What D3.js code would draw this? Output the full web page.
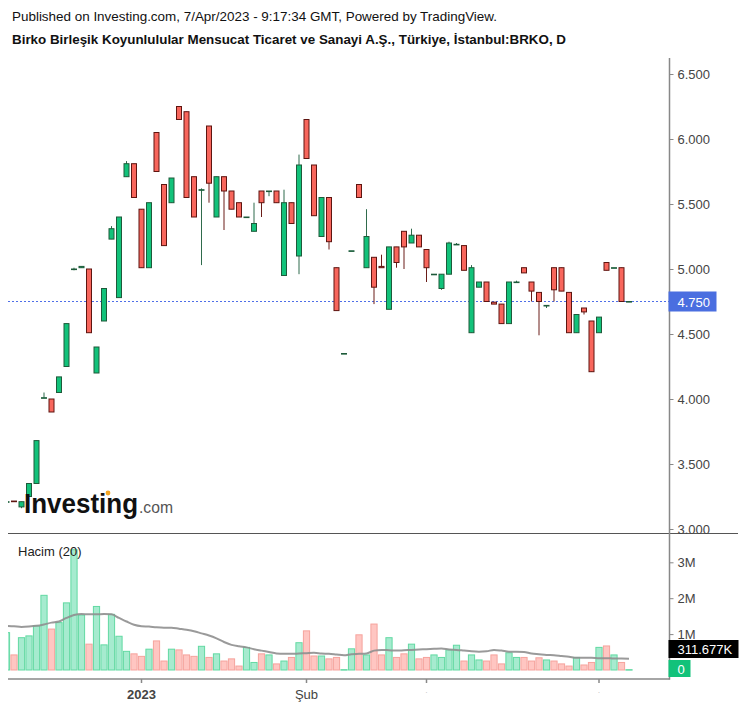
<!DOCTYPE html>
<html>
<head>
<meta charset="utf-8">
<script src="https://cdn.jsdelivr.net/npm/d3@7"></script>
<style>
  body { margin: 0; background: #fff; }
  svg { display: block; font-family: "Liberation Sans", Arial, sans-serif; }
</style>
</head>
<body>
<svg id="chart" width="746" height="707"></svg>
<script>
// ---------- DATA ----------
const dates = [
  "2022-12-07","2022-12-08","2022-12-09","2022-12-12","2022-12-13","2022-12-14","2022-12-15","2022-12-16",
  "2022-12-19","2022-12-20","2022-12-21","2022-12-22","2022-12-23","2022-12-26","2022-12-27","2022-12-28",
  "2022-12-29","2022-12-30",
  "2023-01-02","2023-01-03","2023-01-04","2023-01-05","2023-01-06","2023-01-09","2023-01-10","2023-01-11",
  "2023-01-12","2023-01-13","2023-01-16","2023-01-17","2023-01-18","2023-01-19","2023-01-20","2023-01-23",
  "2023-01-24","2023-01-25","2023-01-26","2023-01-27","2023-01-30","2023-01-31",
  "2023-02-01","2023-02-02","2023-02-03","2023-02-06","2023-02-07","2023-02-08","2023-02-15","2023-02-16",
  "2023-02-17","2023-02-20","2023-02-21","2023-02-22","2023-02-23","2023-02-24","2023-02-27","2023-02-28",
  "2023-03-01","2023-03-02","2023-03-03","2023-03-06","2023-03-07","2023-03-08","2023-03-09","2023-03-10",
  "2023-03-13","2023-03-14","2023-03-15","2023-03-16","2023-03-17","2023-03-20","2023-03-21","2023-03-22",
  "2023-03-23","2023-03-24","2023-03-27","2023-03-28","2023-03-29","2023-03-30","2023-03-31",
  "2023-04-03","2023-04-04","2023-04-05","2023-04-06","2023-04-07"
];
const opens = [
  3.21, 3.215,3.17,3.25,3.35,4.01,4.00,4.05,4.25,5.00,5.01,5.00,4.20,4.60,5.23,4.78,5.71,5.81,5.46,5.01,6.05,
  5.65,5.51,6.25,6.21,5.71,5.61,6.10,5.40,5.71,5.60,5.51,5.40,5.29,5.60,5.60,5.60,4.95,5.51,5.10,6.15,
  5.80,5.25,5.55,5.01,4.35,5.14,5.65,5.01,5.09,5.02,4.69,5.17,5.29,5.20,5.26,5.15,4.96,4.85,4.96,5.19,
  5.18,4.51,4.86,4.90,4.745,4.73,4.58,4.90,5.01,4.90,4.82,4.72,5.01,5.01,4.82,4.51,4.70,4.60,4.51,5.05,
  5.01,5.01,4.75
];
const highs = [
  3.21, 3.215,3.21,3.35,3.68,4.05,4.00,4.17,4.58,5.01,5.02,5.00,4.40,4.85,5.33,5.40,5.83,5.81,5.46,5.51,6.05,
  5.65,5.70,6.25,6.21,5.71,5.62,6.10,5.71,5.71,5.60,5.51,5.40,5.51,5.60,5.60,5.60,5.61,5.51,5.88,6.15,
  5.80,5.55,5.55,5.01,4.35,5.14,5.65,5.46,5.09,5.11,5.17,5.17,5.29,5.31,5.26,5.15,4.96,4.96,5.21,5.20,
  5.18,5.03,4.90,4.90,4.745,4.73,4.90,4.91,5.01,4.90,4.82,4.72,5.01,5.01,4.82,4.65,4.70,4.60,4.63,5.05,
  5.01,5.01,4.75
];
const lows = [
  3.21, 3.21, 3.16,3.25,3.35,4.01,3.90,4.05,4.25,4.99,5.01,4.51,4.20,4.60,5.23,4.78,5.71,5.55,5.01,5.01,5.75,
  5.18,5.51,6.15,5.55,5.40,5.03,5.51,5.40,5.30,5.46,5.40,5.40,5.29,5.40,5.56,5.51,4.95,5.35,4.96,5.85,
  5.41,5.25,5.15,4.68,4.35,5.14,5.55,5.01,4.73,5.01,4.69,5.01,5.00,5.20,5.17,4.90,4.96,4.84,4.96,5.19,
  4.99,4.51,4.86,4.75,4.73,4.58,4.58,4.90,4.97,4.75,4.49,4.70,4.75,4.83,4.51,4.51,4.65,4.21,4.51,4.99,
  5.01,4.75,4.75
];
const closes = [
  3.21, 3.21, 3.21,3.35,3.68,4.01,3.90,4.17,4.58,5.00,5.02,4.51,4.40,4.85,5.31,5.40,5.81,5.55,5.01,5.51,5.75,
  5.18,5.70,6.15,5.55,5.40,5.61,5.66,5.71,5.60,5.46,5.40,5.40,5.35,5.51,5.60,5.51,5.51,5.35,5.80,5.85,
  5.41,5.55,5.21,4.68,4.35,5.14,5.55,5.25,4.86,5.01,5.17,5.05,5.17,5.26,5.17,5.01,4.96,4.96,5.20,5.19,
  4.99,5.01,4.90,4.75,4.73,4.58,4.90,4.90,4.97,4.83,4.75,4.72,4.84,4.83,4.51,4.65,4.67,4.21,4.63,4.99,
  5.01,4.75,4.75
];
// volume in millions
const volumes = [
  1.04, 0.42,0.90,0.95,1.23,2.08,1.14,1.32,1.87,3.35,1.53,0.72,1.77,0.70,1.55,0.94,0.52,0.45,0.38,0.58,0.81,
  0.25,0.58,0.56,0.42,0.38,0.66,0.35,0.45,0.25,0.31,0.11,0.63,0.21,0.45,0.42,0.17,0.25,0.35,0.76,1.09,
  0.39,0.39,0.31,0.35,0.01,0.59,0.98,0.42,1.28,0.42,0.90,0.35,0.45,0.72,0.31,0.35,0.42,0.35,0.56,0.69,
  0.25,0.42,0.28,0.25,0.42,0.17,0.48,0.35,0.35,0.25,0.34,0.28,0.25,0.17,0.11,0.35,0.14,0.21,0.63,0.67,
  0.42,0.21,0.01
];
// 20-period volume moving average, in millions
const volumeMA = [
  1.23, 1.22,1.20,1.21,1.23,1.27,1.32,1.35,1.45,1.53,1.56,1.55,1.55,1.56,1.55,1.45,1.35,1.26,1.22,1.21,1.19,
  1.18,1.18,1.15,1.12,1.08,1.02,0.96,0.88,0.78,0.70,0.66,0.63,0.58,0.54,0.50,0.46,0.45,0.45,0.46,0.47,
  0.48,0.46,0.45,0.43,0.41,0.44,0.45,0.46,0.54,0.56,0.55,0.54,0.55,0.56,0.57,0.58,0.59,0.60,0.57,0.56,
  0.54,0.52,0.51,0.52,0.56,0.54,0.51,0.51,0.50,0.46,0.44,0.42,0.41,0.39,0.37,0.34,0.34,0.34,0.33,0.33,
  0.32,0.32,0.3117
];
const priceTicks = [3.0, 3.5, 4.0, 4.5, 5.0, 5.5, 6.0, 6.5];
const volumeTicks = [1, 2, 3];
const xTickDates = ["2023-01-02", "2023-02-01", "2023-03-01", "2023-04-03"];
const xTickLabels = ["2023", "Şub", ".", "."];
const lastPrice = 4.75;
const lastVolumeMA = "311.677K";
const lastVolumeLabel = "0";
const headerLine = "Published on Investing.com, 7/Apr/2023 - 9:17:34 GMT, Powered by TradingView.";
const titleLine = "Birko Birleşik Koyunlulular Mensucat Ticaret ve Sanayi A.Ş., Türkiye, İstanbul:BRKO, D";

// ---------- LAYOUT ----------
const svg = d3.select("#chart");
const plotLeft = 8, plotRight = 669;
const priceTop = 58, priceBottom = 533;
const volTop = 535, volBottom = 679;
const axisX = 669.5;

const rows = dates.map((d, i) => ({
  date: d, open: opens[i], high: highs[i], low: lows[i], close: closes[i],
  vol: volumes[i], ma: volumeMA[i], up: closes[i] >= opens[i]
}));

const x = d3.scaleBand().domain(dates).range([2.75, 632.75]).padding(0);
const cx = d => x(d) + x.bandwidth() / 2;
const y = d3.scaleLinear().domain([3, 6.5]).range([529, 74]);
const yv = d3.scaleLinear().domain([0, 3]).range([670, 562.3]);

const defs = svg.append("defs");
defs.append("clipPath").attr("id", "clipPrice").append("rect")
  .attr("x", plotLeft).attr("y", priceTop).attr("width", plotRight - plotLeft).attr("height", priceBottom - priceTop);
defs.append("clipPath").attr("id", "clipVol").append("rect")
  .attr("x", plotLeft).attr("y", volTop).attr("width", plotRight - plotLeft).attr("height", volBottom - volTop);

// header
svg.append("text").attr("x", 12).attr("y", 21).attr("font-size", 13).attr("fill", "#111")
  .attr("textLength", 485).attr("lengthAdjust", "spacingAndGlyphs").text(headerLine);
svg.append("text").attr("x", 12).attr("y", 44).attr("font-size", 13).attr("font-weight", "bold").attr("fill", "#111")
  .attr("textLength", 554).attr("lengthAdjust", "spacingAndGlyphs").text(titleLine);

// ---------- PRICE PANE ----------
const pg = svg.append("g").attr("clip-path", "url(#clipPrice)");

// last price line
pg.append("line").attr("x1", plotLeft).attr("x2", plotRight)
  .attr("y1", y(lastPrice)).attr("y2", y(lastPrice))
  .attr("stroke", "#4f6fe8").attr("stroke-width", 1).attr("stroke-dasharray", "2,2");

const bodyW = 5;
const candles = pg.selectAll("g.c").data(rows).join("g").attr("class", "c");
candles.append("line")
  .attr("x1", d => cx(d.date)).attr("x2", d => cx(d.date))
  .attr("y1", d => y(d.high)).attr("y2", d => y(d.low))
  .attr("stroke", d => d.up ? "#2f6b4c" : "#6a1d18").attr("stroke-width", 1);
candles.append("rect")
  .attr("x", d => cx(d.date) - bodyW / 2)
  .attr("width", bodyW)
  .attr("y", d => y(Math.max(d.open, d.close)))
  .attr("height", d => Math.max(0.6, Math.abs(y(d.open) - y(d.close))))
  .attr("fill", d => d.up ? "#12c27a" : "#f8665c")
  .attr("stroke", d => d.up ? "#1e5a3a" : "#5e1510").attr("stroke-width", 1);

// watermark logo
const logo = svg.append("g");
logo.append("text").attr("x", 24).attr("y", 513).attr("font-size", 27).attr("font-weight", "bold")
  .attr("fill", "#111").attr("textLength", 114).attr("lengthAdjust", "spacingAndGlyphs").text("Investing");
logo.append("text").attr("x", 139).attr("y", 513).attr("font-size", 17).attr("fill", "#555")
  .attr("textLength", 34).attr("lengthAdjust", "spacingAndGlyphs").text(".com");
logo.append("circle").attr("cx", 108).attr("cy", 493).attr("r", 2.4).attr("fill", "#f5a623");

// ---------- VOLUME PANE ----------
const vg = svg.append("g").attr("clip-path", "url(#clipVol)");
const volW = 6.2;
vg.selectAll("rect.v").data(rows).join("rect").attr("class", "v")
  .attr("x", d => cx(d.date) - volW / 2)
  .attr("width", volW)
  .attr("y", d => yv(d.vol))
  .attr("height", d => Math.max(0.5, yv(0) - yv(d.vol)))
  .attr("fill", d => d.up ? "#a6ebcf" : "#ffc6c2")
  .attr("stroke", d => d.up ? "#62d9a2" : "#f6a39d").attr("stroke-width", 1);

vg.append("path").datum(rows)
  .attr("d", d3.line().x(d => cx(d.date)).y(d => yv(d.ma)).curve(d3.curveMonotoneX))
  .attr("fill", "none").attr("stroke", "#8f8f8f").attr("stroke-width", 2).attr("stroke-opacity", 0.9);

svg.append("text").attr("x", 18).attr("y", 556).attr("font-size", 13).attr("fill", "#222").text("Hacim (20)");

// ---------- AXES / FRAME ----------
svg.append("line").attr("x1", plotLeft).attr("x2", 738).attr("y1", 533.5).attr("y2", 533.5)
  .attr("stroke", "#555").attr("stroke-width", 1.2);
svg.append("line").attr("x1", plotLeft).attr("x2", axisX).attr("y1", volBottom).attr("y2", volBottom)
  .attr("stroke", "#888").attr("stroke-width", 1.5);
svg.append("line").attr("x1", axisX).attr("x2", axisX).attr("y1", 58).attr("y2", volBottom + 0.7)
  .attr("stroke", "#888").attr("stroke-width", 1.5);

const pAxis = svg.append("g").attr("transform", `translate(${axisX},0)`)
  .call(d3.axisRight(y).tickValues(priceTicks).tickFormat(d3.format(".3f")).tickSize(4).tickPadding(4));
pAxis.select(".domain").remove();
pAxis.selectAll("line").attr("stroke", "#888");
pAxis.selectAll("text").attr("font-size", 13).attr("fill", "#444").attr("font-family", "Liberation Sans, Arial, sans-serif");

const vAxis = svg.append("g").attr("transform", `translate(${axisX},0)`)
  .call(d3.axisRight(yv).tickValues(volumeTicks).tickFormat(d => d + "M").tickSize(4).tickPadding(4));
vAxis.select(".domain").remove();
vAxis.selectAll("line").attr("stroke", "#888");
vAxis.selectAll("text").attr("font-size", 13).attr("fill", "#444").attr("font-family", "Liberation Sans, Arial, sans-serif");

const xAxis = svg.append("g").attr("transform", `translate(0,${volBottom})`)
  .call(d3.axisBottom(x).tickValues(xTickDates).tickFormat((d, i) => xTickLabels[i]).tickSize(4).tickPadding(4));
xAxis.select(".domain").remove();
xAxis.selectAll("line").attr("stroke", "#888").attr("stroke-width", 1.5);
xAxis.selectAll("text").attr("font-size", 13).attr("fill", "#444")
  .attr("font-family", "Liberation Sans, Arial, sans-serif")
  .attr("font-weight", (d, i) => i === 0 ? "bold" : "normal")
  .attr("dy", "0.9em");
xAxis.selectAll("text").filter((d, i) => xTickLabels[i] === ".").attr("font-size", 7).attr("fill", "#aaa");

// price label
const pl = svg.append("g");
pl.append("rect").attr("x", axisX - 1).attr("y", y(lastPrice) - 10).attr("width", 48).attr("height", 20).attr("fill", "#4a6ee0");
pl.append("text").attr("x", axisX + 8).attr("y", y(lastPrice) + 5).attr("font-size", 13).attr("fill", "#fff").text(d3.format(".3f")(lastPrice));

// volume labels
const zeroY = yv(0);
svg.append("rect").attr("x", axisX - 1).attr("y", zeroY - 10).attr("width", 22).attr("height", 17).attr("fill", "#12c27a");
svg.append("text").attr("x", axisX + 8).attr("y", zeroY + 3.5).attr("font-size", 13).attr("fill", "#fff").text(lastVolumeLabel);
svg.append("rect").attr("x", axisX - 1).attr("y", zeroY - 30).attr("width", 70).attr("height", 18).attr("fill", "#000");
svg.append("text").attr("x", axisX + 8).attr("y", zeroY - 16).attr("font-size", 13).attr("fill", "#fff").text(lastVolumeMA);
</script>
</body>
</html>
